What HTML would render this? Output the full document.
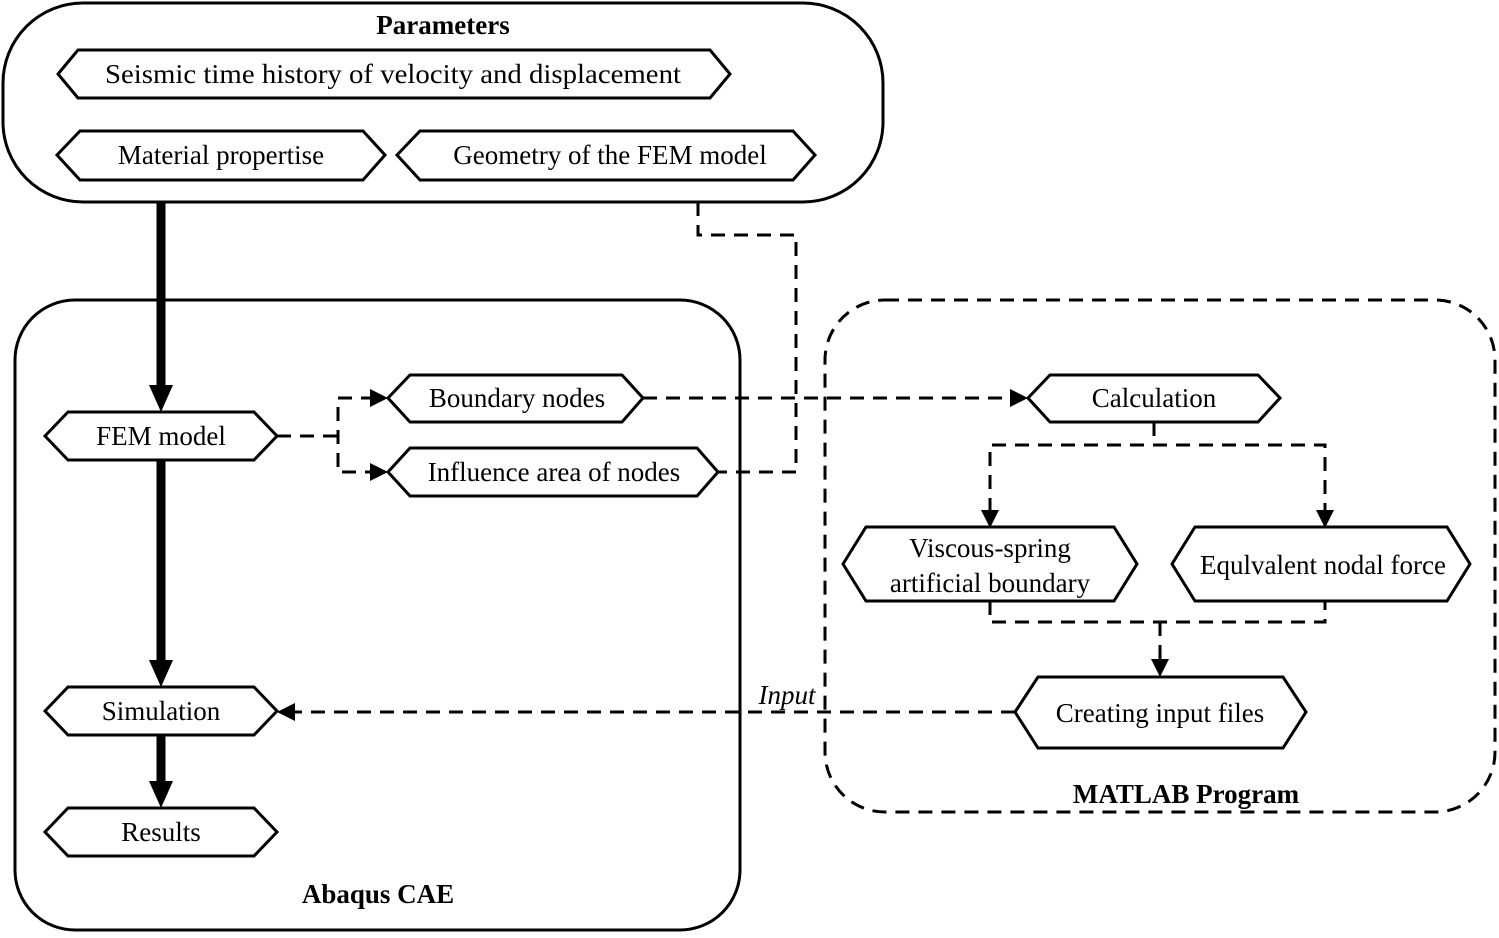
<!DOCTYPE html>
<html><head><style>body{margin:0;background:#fff}svg{display:block}text{font-family:"Liberation Serif",serif;font-size:27px;fill:#000}</style></head>
<body>
<svg width="1499" height="938" viewBox="0 0 1499 938" xmlns="http://www.w3.org/2000/svg">
<g fill="none" stroke="#000" stroke-width="3">
<rect x="3" y="3" width="880" height="199" rx="80"/>
<rect x="15" y="300" width="725" height="630" rx="60"/>
<rect x="825" y="300" width="670" height="512" rx="60" stroke-dasharray="14,9"/>
</g>
<g fill="#fff" stroke="#000" stroke-width="3">
<polygon points="58,74 78,50 710,50 730,74 710,98 78,98"/>
<polygon points="57,155 80,131 363,131 385,155 363,180 80,180"/>
<polygon points="397,155 420,131 793,131 815,155 793,180 420,180"/>
<polygon points="45,436 68,412 254,412 277,436 254,460 68,460"/>
<polygon points="45,711 68,687 254,687 277,711 254,735 68,735"/>
<polygon points="45,832 68,808 254,808 277,832 254,856 68,856"/>
<polygon points="388,398 410,375 622,375 643,398 622,422 410,422"/>
<polygon points="388,472 410,448 697,448 718,472 697,496 410,496"/>
<polygon points="1028,398 1050,375 1258,375 1280,398 1258,422 1050,422"/>
<polygon points="843,564 866,527 1114,527 1137,564 1114,601 866,601"/>
<polygon points="1172,564 1195,527 1447,527 1470,564 1447,601 1195,601"/>
<polygon points="1015,712 1038,677 1283,677 1306,712 1283,748 1038,748"/>
</g>
<g stroke="#000" stroke-width="9" fill="none">
<line x1="161" y1="202" x2="161" y2="390"/>
<line x1="161" y1="460" x2="161" y2="665"/>
<line x1="161" y1="735" x2="161" y2="786"/>
</g>
<g fill="#000">
<path d="M161,412 l-12,-27 h24z"/>
<path d="M161,687 l-12,-27 h24z"/>
<path d="M161,808 l-12,-27 h24z"/>
</g>
<g stroke="#000" stroke-width="3" fill="none" stroke-dasharray="14,9">
<polyline points="277,436 338,436"/>
<polyline points="375,398 338,398 338,472 375,472"/>
<line x1="643" y1="398" x2="1012" y2="398"/>
<polyline points="698,202 698,235 796,235 796,472 718,472"/>
<polyline points="1154,422 1154,445"/>
<polyline points="990,512 990,445 1325,445 1325,512" />
<polyline points="990,601 990,622 1325,622 1325,601"/>
<line x1="1160" y1="622" x2="1160" y2="660"/>
<line x1="1015" y1="712" x2="295" y2="712"/>
</g>
<g fill="#000">
<path d="M388,398 l-18,-9 v18z"/><path d="M388,472 l-18,-9 v18z"/>
<path d="M1028,398 l-18,-9 v18z"/>
<path d="M990,528 l-9,-18 h18z"/><path d="M1325,528 l-9,-18 h18z"/>
<path d="M1160,677 l-9,-18 h18z"/>
<path d="M277,712 l18,-9 v18z"/>
</g>
<text x="443" y="34" text-anchor="middle" font-weight="bold">Parameters</text>
<text x="393" y="83" text-anchor="middle" textLength="576" lengthAdjust="spacingAndGlyphs">Seismic time history of velocity and displacement</text>
<text x="221" y="164" text-anchor="middle">Material propertise</text>
<text x="610" y="164" text-anchor="middle">Geometry of the FEM model</text>
<text x="161" y="445" text-anchor="middle">FEM model</text>
<text x="161" y="720" text-anchor="middle">Simulation</text>
<text x="161" y="841" text-anchor="middle">Results</text>
<text x="517" y="407" text-anchor="middle">Boundary nodes</text>
<text x="554" y="481" text-anchor="middle">Influence area of nodes</text>
<text x="1154" y="407" text-anchor="middle">Calculation</text>
<text x="990" y="557" text-anchor="middle">Viscous-spring</text>
<text x="990" y="592" text-anchor="middle">artificial boundary</text>
<text x="1323" y="574" text-anchor="middle">Equlvalent nodal force</text>
<text x="1160" y="722" text-anchor="middle">Creating input files</text>
<text x="787" y="704" text-anchor="middle" font-style="italic">Input</text>
<text x="378" y="903" text-anchor="middle" font-weight="bold">Abaqus CAE</text>
<text x="1186" y="803" text-anchor="middle" font-weight="bold">MATLAB Program</text>
</svg>
</body></html>
